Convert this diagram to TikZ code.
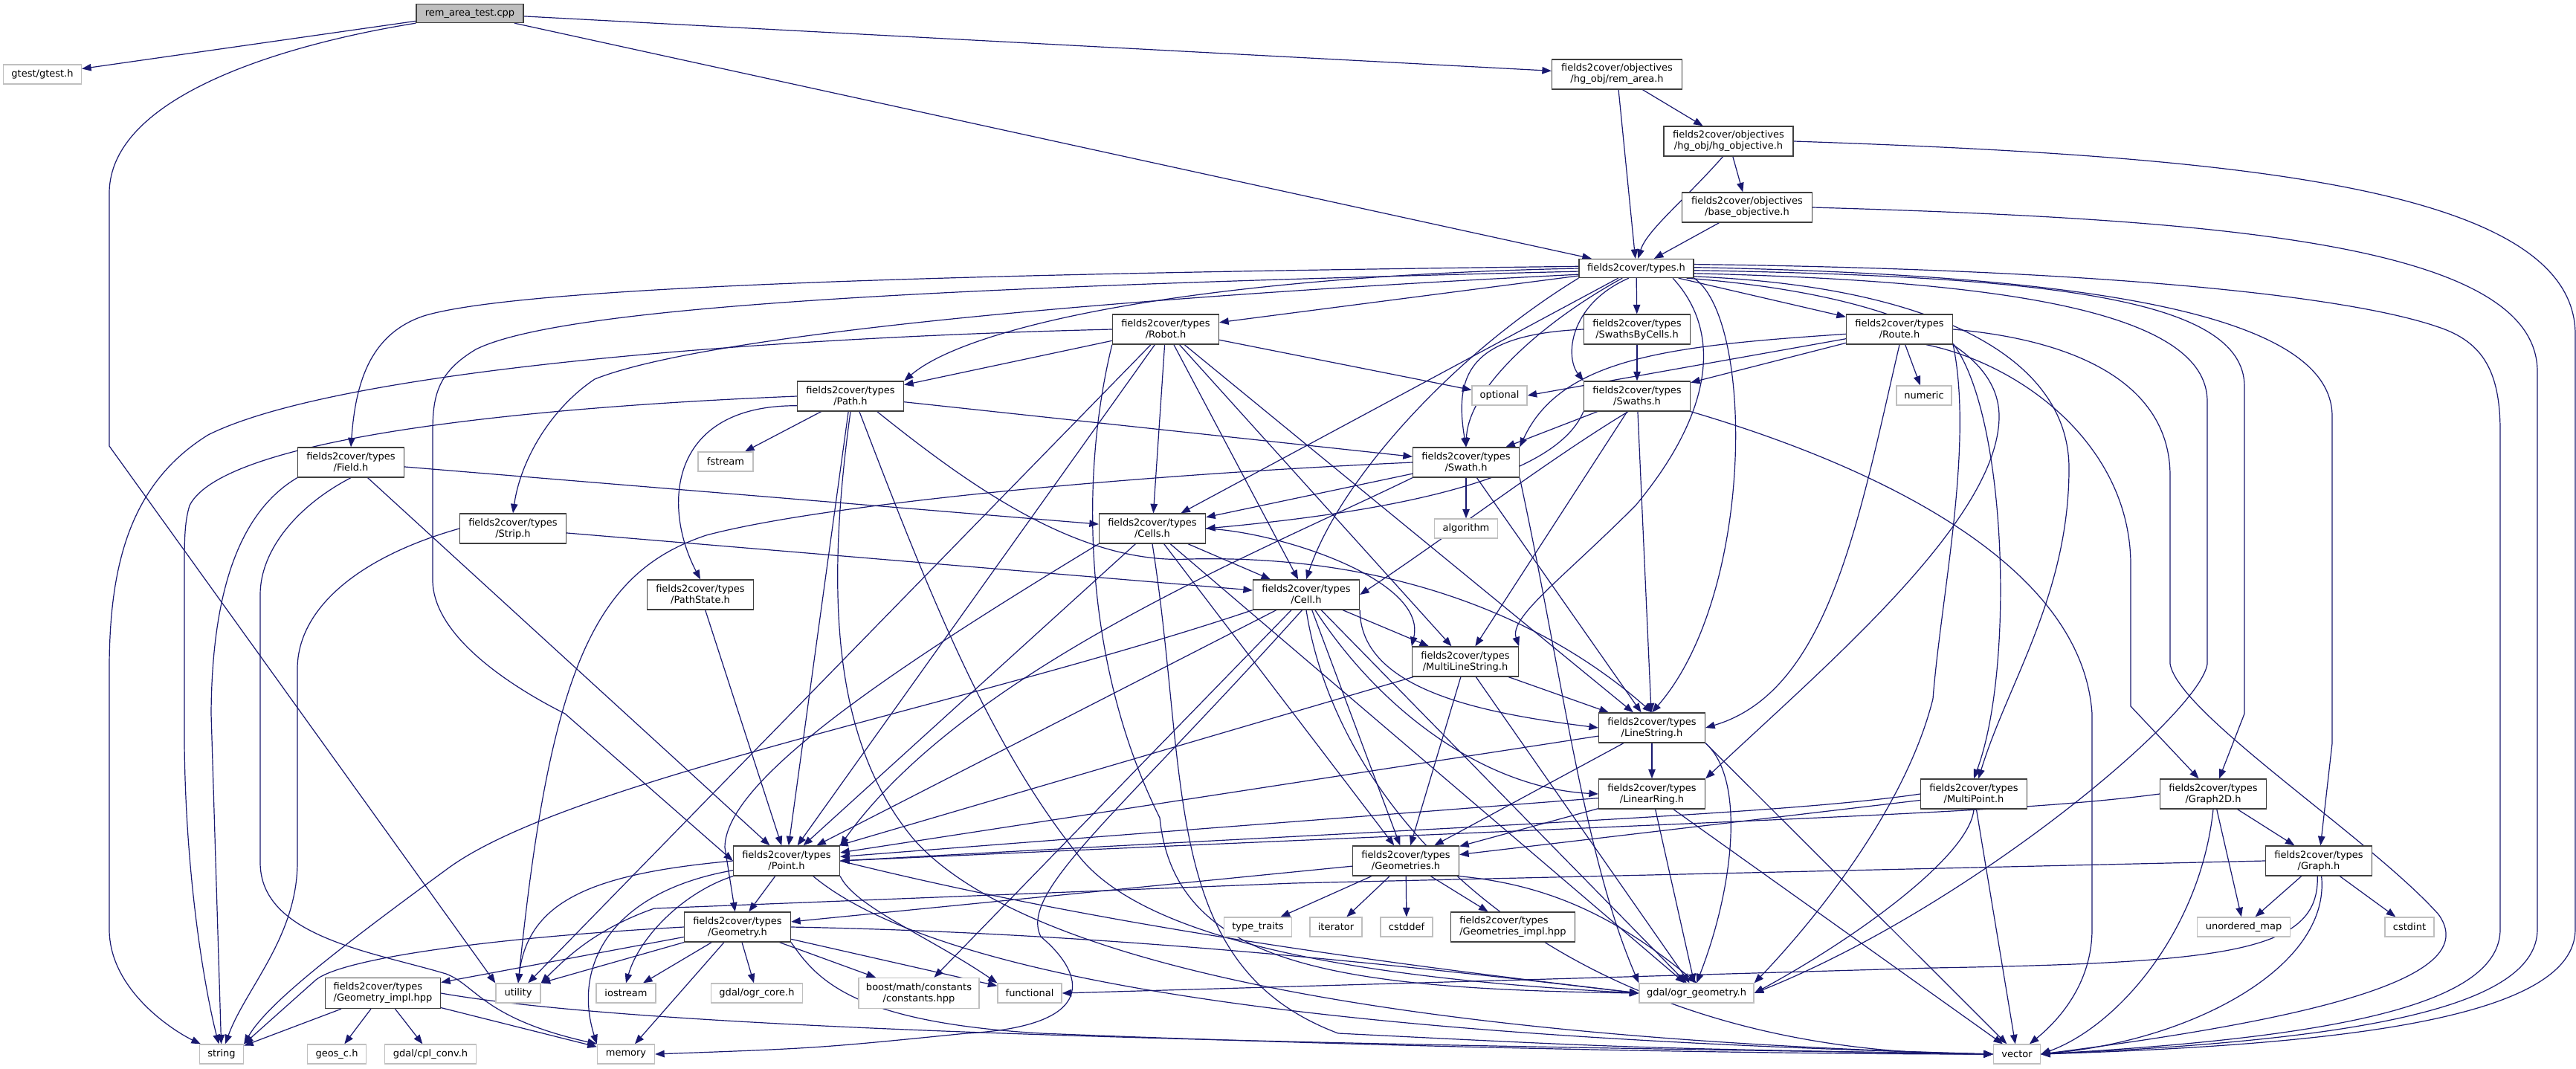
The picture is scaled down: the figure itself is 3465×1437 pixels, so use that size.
\documentclass[tikz,border=0pt]{standalone}
\usepackage{fontspec}
\setmainfont{DejaVu Sans}
\usetikzlibrary{arrows.meta}
\definecolor{edgec}{HTML}{191970}
\definecolor{docb}{HTML}{3F3F3F}
\definecolor{extb}{HTML}{BFBFBF}
\definecolor{rootf}{HTML}{BFBFBF}
\pgfdeclarelayer{bg}
\pgfsetlayers{bg,main}
\newcommand{\nf}{\fontsize{13pt}{15pt}\selectfont}
\tikzset{
  nd/.style={font=\nf, inner sep=0pt, line width=1.3pt, fill=white, align=center},
  doc/.style={nd, draw=docb},
  ext/.style={nd, draw=extb},
  two/.style={minimum width=143pt, minimum height=40pt},
  one/.style={minimum height=26pt},
  e/.style={draw=edgec, line width=1.2pt, -{Triangle[length=12.5pt,width=9.5pt]}},
}
\begin{document}
\begin{tikzpicture}[x=1pt,y=-1pt]
\useasboundingbox (0,0) rectangle (3465,1437);
% ---------------- nodes ----------------
\node[doc,fill=rootf,minimum width=144pt,minimum height=25pt] (root) at (632,18) {rem\_area\_test.cpp};
\node[ext,one,minimum width=105pt] (gtest) at (57,100) {gtest/gtest.h};
\node[doc,minimum width=175pt,minimum height=40pt] (remarea) at (2175,100) {fields2cover/objectives\\/hg\_obj/rem\_area.h};
\node[doc,minimum width=174pt,minimum height=40pt] (hgobj) at (2325,190) {fields2cover/objectives\\/hg\_obj/hg\_objective.h};
\node[doc,minimum width=175pt,minimum height=40pt] (baseobj) at (2350,279) {fields2cover/objectives\\/base\_objective.h};
\node[doc,minimum width=154pt,minimum height=25pt] (types) at (2201,361) {fields2cover/types.h};
\node[doc,two] (robot) at (1568,443) {fields2cover/types\\/Robot.h};
\node[doc,two] (sbc) at (2202,443) {fields2cover/types\\/SwathsByCells.h};
\node[doc,two] (route) at (2555,443) {fields2cover/types\\/Route.h};
\node[doc,two] (path) at (1144,533) {fields2cover/types\\/Path.h};
\node[ext,one,minimum width=74pt] (optional) at (2017,532) {optional};
\node[doc,two] (swaths) at (2202,533) {fields2cover/types\\/Swaths.h};
\node[ext,one,minimum width=74pt] (numeric) at (2588,532) {numeric};
\node[doc,two] (field) at (472,622) {fields2cover/types\\/Field.h};
\node[ext,one,minimum width=74pt] (fstream) at (976,621) {fstream};
\node[doc,two] (swath) at (1972,622) {fields2cover/types\\/Swath.h};
\node[doc,two] (strip) at (690,711) {fields2cover/types\\/Strip.h};
\node[doc,two] (cells) at (1550,711) {fields2cover/types\\/Cells.h};
\node[ext,one,minimum width=85pt] (algorithm) at (1972,711) {algorithm};
\node[doc,two] (pathstate) at (942,800) {fields2cover/types\\/PathState.h};
\node[doc,two] (cell) at (1757,800) {fields2cover/types\\/Cell.h};
\node[doc,two] (mls) at (1971,890) {fields2cover/types\\/MultiLineString.h};
\node[doc,two] (linestring) at (2222,979) {fields2cover/types\\/LineString.h};
\node[doc,two] (linearring) at (2222,1068) {fields2cover/types\\/LinearRing.h};
\node[doc,two] (multipoint) at (2655,1068) {fields2cover/types\\/MultiPoint.h};
\node[doc,two] (graph2d) at (2977,1068) {fields2cover/types\\/Graph2D.h};
\node[doc,two] (point) at (1058,1158) {fields2cover/types\\/Point.h};
\node[doc,two] (geometries) at (1891,1158) {fields2cover/types\\/Geometries.h};
\node[doc,two] (graph) at (3119,1158) {fields2cover/types\\/Graph.h};
\node[doc,two] (geometry) at (992,1247) {fields2cover/types\\/Geometry.h};
\node[ext,one,minimum width=91pt] (typetraits) at (1692,1247) {type\_traits};
\node[ext,one,minimum width=70pt] (iterator) at (1797,1247) {iterator};
\node[ext,one,minimum width=70pt] (cstddef) at (1892,1247) {cstddef};
\node[doc,minimum width=167pt,minimum height=40pt,align=left] (geomsimpl) at (2035,1247) {fields2cover/types\\/Geometries\_impl.hpp};
\node[ext,one,minimum width=125pt] (unorderedmap) at (3018,1247) {unordered\_map};
\node[ext,one,minimum width=66pt] (cstdint) at (3241,1247) {cstdint};
\node[doc,minimum width=155pt,minimum height=41pt,align=left] (geomimpl) at (515,1336) {fields2cover/types\\/Geometry\_impl.hpp};
\node[ext,one,minimum width=60pt] (utility) at (697,1336) {utility};
\node[ext,one,minimum width=80pt] (iostream) at (842,1336) {iostream};
\node[ext,one,minimum width=123pt] (ogrcore) at (1018,1336) {gdal/ogr\_core.h};
\node[ext,minimum width=162pt,minimum height=41pt] (boost) at (1236,1336) {boost/math/constants\\/constants.hpp};
\node[ext,one,minimum width=86pt] (functional) at (1385,1336) {functional};
\node[ext,one,minimum width=154pt] (ogrgeom) at (2282,1336) {gdal/ogr\_geometry.h};
\node[ext,one,minimum width=59pt] (string) at (298,1418) {string};
\node[ext,one,minimum width=79pt] (geos) at (453,1418) {geos\_c.h};
\node[ext,one,minimum width=123pt] (cplconv) at (579,1418) {gdal/cpl\_conv.h};
\node[ext,one,minimum width=77pt] (memory) at (842,1418) {memory};
\node[ext,one,minimum width=63pt] (vector) at (2713,1418) {vector};
% ---------------- edges ----------------
\begin{pgfonlayer}{bg}
\fill[white] (0,0) rectangle (3465,1437);
\foreach \a/\b in {root/gtest, root/remarea, root/types, remarea/hgobj, remarea/types, hgobj/baseobj, baseobj/types,
  types/robot, types/sbc, types/route, types/cells,
  robot/path, robot/cells, robot/cell, robot/mls, robot/linestring, robot/point, robot/utility, robot/optional,
  sbc/swaths, route/swaths, route/numeric,
  path/fstream, path/point, path/swath, field/cells, field/point, strip/cell,
  swaths/swath, swaths/mls, swaths/linestring,
  swath/algorithm, swath/cells, swath/linestring,
  pathstate/point, cells/cell, cells/point, cells/geometries, cells/ogrgeom,
  cell/point, cell/boost, cell/mls, cell/geometries, cell/ogrgeom,
  mls/geometries, mls/ogrgeom, mls/linestring, mls/point,
  linestring/point, linestring/geometries, linestring/linearring,
  linearring/point, linearring/geometries, linearring/ogrgeom, linearring/vector,
  multipoint/geometries, multipoint/vector,
  graph2d/graph, graph2d/unorderedmap, graph/unorderedmap, graph/cstdint,
  geometries/geometry, geometries/typetraits, geometries/iterator, geometries/cstddef, geometries/geomsimpl,
  point/geometry, geometry/geomimpl, geometry/iostream, geometry/ogrcore, geometry/boost, geometry/functional, geometry/memory,
  geomimpl/string, geomimpl/geos, geomimpl/cplconv, geomimpl/memory}
  \draw[e] (\a) -- (\b);
% root
\draw[e] (root.south west) .. controls (380,60) and (147,130) .. (147,260) -- (147,600) -- (utility.north west);
% objectives
\draw[e] (hgobj.250) .. controls (2265,270) and (2215,310) .. (types.80);
\draw[e] (hgobj.east) .. controls (3000,210) and (3464,250) .. (3464,450) -- (3464,1250) .. controls (3464,1370) and (3150,1405) .. (vector.east);
\draw[e] (baseobj.east) .. controls (3000,295) and (3413,330) .. (3413,500) -- (3413,1250) .. controls (3413,1360) and (3150,1400) .. (vector.east);
% types, right side
\draw[e] (types.4) .. controls (2800,362) and (3150,395) .. (3280,440) .. controls (3340,460) and (3363,500) .. (3363,580) -- (3363,1250) .. controls (3363,1350) and (3150,1395) .. (vector.east);
\draw[e] (types.1) .. controls (2800,370) and (3137,420) .. (3137,560) -- (3137,1000) -- (graph);
\draw[e] (types.358) .. controls (2750,372) and (3019,400) .. (3019,520) -- (3019,960) -- (graph2d);
\draw[e] (types.355) .. controls (2700,378) and (2969,420) .. (2969,540) -- (2969,893) .. controls (2960,960) and (2650,1220) .. (ogrgeom.east);
\draw[e] (types.352) .. controls (2600,385) and (2783,480) .. (2783,630) .. controls (2783,800) and (2700,920) .. (multipoint);
\draw[e] (types.349) .. controls (2500,392) and (2689,450) .. (2689,560) .. controls (2689,700) and (2450,900) .. (linearring.north east);
\draw[e] (types.345) .. controls (2320,450) and (2300,560) .. (2200,680) .. controls (2100,780) and (2030,830) .. (mls.north east);
\draw[e] (types.south east) .. controls (2360,430) and (2360,800) .. (linestring.north);
% types, left side
\draw[e] (types.178) .. controls (1300,368) and (700,385) .. (570,425) .. controls (495,450) and (478,520) .. (field.north);
\draw[e] (types.183) .. controls (1300,385) and (760,410) .. (640,470) .. controls (590,500) and (582,530) .. (582,580) -- (582,780) .. controls (582,860) and (700,930) .. (760,960) -- (point.west);
\draw[e] (types.186) .. controls (1500,400) and (950,450) .. (800,510) .. controls (740,550) and (700,620) .. (strip.north);
\draw[e] (types.180) .. controls (1600,372) and (1300,440) .. (path.north east);
\draw[e] (types.south west) .. controls (1950,480) and (1800,650) .. (cell.north);
\draw[e] (types.215) .. controls (2080,430) and (1975,520) .. (swath.north);
\draw[e] (types.232) .. controls (2110,410) and (2105,480) .. (swaths.north west);
% robot
\draw[e] (robot.west) .. controls (1000,455) and (450,500) .. (280,585) .. controls (175,650) and (147,760) .. (147,900) -- (147,1250) .. controls (147,1330) and (230,1385) .. (string);
\draw[e] (robot.south west) .. controls (1450,650) and (1460,900) .. (1560,1100) .. controls (1580,1300) and (1800,1330) .. (ogrgeom.west);
% route
\draw[e] (route.east) .. controls (2800,458) and (2919,520) .. (2919,640) -- (2919,893) .. controls (2930,960) and (3188,1127) .. (3280,1230) .. controls (3330,1300) and (3200,1360) .. (vector.east);
\draw[e] (route.185) .. controls (2250,465) and (2100,480) .. (swath.north east);
\draw[e] (route.190) -- (optional.east);
\draw[e] (route.south) .. controls (2500,700) and (2460,930) .. (linestring.east);
\draw[e] (route.south east) .. controls (2655,600) and (2611,800) .. (2600,940) .. controls (2560,1100) and (2420,1260) .. (ogrgeom.north east);
\draw[e] (route.345) .. controls (2700,560) and (2710,900) .. (multipoint.north);
\draw[e] (route.330) .. controls (2720,490) and (2866,600) .. (2866,760) -- (2866,950) -- (graph2d);
% sbc
\draw[e] (sbc.west) .. controls (1980,450) and (1955,500) .. (swath.north);
% path
\draw[e] (path.west) .. controls (700,548) and (300,590) .. (255,680) .. controls (249,700) and (248,720) .. (248,760) -- (248,1000) .. controls (250,1200) and (280,1350) .. (string);
\draw[e] (path.190) .. controls (900,545) and (890,680) .. (pathstate.north);
\draw[e] (path.330) .. controls (1300,650) and (1450,760) .. (1600,752) .. controls (1900,745) and (2100,850) .. (linestring.north);
\draw[e] (path.300) .. controls (1250,800) and (1330,1000) .. (1450,1150) .. controls (1550,1280) and (1900,1320) .. (ogrgeom.west);
\draw[e] (path.south) .. controls (1110,800) and (1120,1000) .. (1230,1130) .. controls (1400,1320) and (2000,1400) .. (vector.west);
% field, strip
\draw[e] (field.south west) .. controls (320,690) and (285,800) .. (284,960) -- (string);
\draw[e] (field.south) .. controls (400,680) and (350,740) .. (350,800) -- (350,1160) .. controls (350,1260) and (500,1280) .. (600,1310) .. controls (640,1325) and (650,1370) .. (memory.north west);
\draw[e] (strip.west) .. controls (480,750) and (400,820) .. (400,900) -- (400,1160) .. controls (400,1260) and (330,1330) .. (string);
% swaths, swath
\draw[e] (swaths.south west) .. controls (2090,650) and (1850,690) .. (cells.east);
\draw[e] (swaths.240) .. controls (2080,620) and (1950,720) .. (cell.east);
\draw[e] (swaths.south east) .. controls (2500,620) and (2800,750) .. (2814,960) -- (2814,1250) .. controls (2814,1330) and (2760,1380) .. (vector);
\draw[e] (swath.west) .. controls (1500,640) and (1100,680) .. (950,720) .. controls (800,770) and (740,900) .. (utility.north);
\draw[e] (swath.south west) .. controls (1700,740) and (1300,900) .. (point.north east);
\draw[e] (swath.south east) .. controls (2100,900) and (2130,1150) .. (ogrgeom.north west);
% cells, cell
\draw[e] (cells.south west) .. controls (1200,900) and (975,1050) .. (975,1140) -- (geometry);
\draw[e] (cells.east) .. controls (1720,715) and (1920,780) .. (mls.north west);
\draw[e] (cells.south) .. controls (1600,1050) and (1560,1300) .. (1800,1390) .. controls (2200,1410) .. (vector.west);
\draw[e] (cell.south west) .. controls (1300,950) and (760,1050) .. (600,1170) .. controls (450,1280) and (360,1350) .. (string.north east);
\draw[e] (cell.255) .. controls (1500,1100) and (1370,1200) .. (1400,1260) .. controls (1460,1310) and (1480,1380) .. (1300,1390) .. controls (1100,1410) .. (memory.east);
\draw[e] (cell.south east) .. controls (1830,930) and (2000,960) .. (linestring.west);
\draw[e] (cell.300) .. controls (1860,960) and (2000,1060) .. (linearring.west);
\draw[e] (cell.south) .. controls (1800,1100) and (2100,1420) .. (vector.west);
% linestring, multipoint, graphs
\draw[e] (linestring.south east) .. controls (2350,1050) and (2330,1200) .. (ogrgeom.north);
\draw[e] (linestring.south east) -- (vector);
\draw[e] (multipoint.west) .. controls (2400,1095) and (2000,1110) .. (point.east);
\draw[e] (multipoint.south) .. controls (2650,1150) and (2500,1260) .. (ogrgeom.east);
\draw[e] (graph2d.west) .. controls (2700,1095) and (2400,1100) .. (point.east);
\draw[e] (graph2d.south) .. controls (2960,1250) and (2850,1380) .. (vector.east);
\draw[e] (graph.265) .. controls (3120,1280) and (3000,1295) .. (2600,1302) -- (functional.east);
\draw[e] (graph.west) -- (1740,1188) -- (880,1222) .. controls (800,1250) and (760,1290) .. (utility.north east);
\draw[e] (graph.280) .. controls (3135,1300) and (2950,1400) .. (vector.east);
% geometries
\draw[e] (geometries.south east) .. controls (2080,1190) and (2170,1230) .. (ogrgeom.north);
% point
\draw[e] (point.west) .. controls (800,1175) and (710,1210) .. (utility.north);
\draw[e] (point.south west) .. controls (920,1200) and (860,1260) .. (iostream.north);
\draw[e] (point.190) .. controls (820,1200) and (770,1300) .. (memory.north west);
\draw[e] (point.south east) .. controls (1150,1220) and (1250,1260) .. (functional.north west);
\draw[e] (point.east) .. controls (1500,1250) and (1900,1300) .. (ogrgeom.west);
\draw[e] (point.330) .. controls (1300,1350) and (2000,1400) .. (vector.west);
% geometry
\draw[e] (geometry.west) .. controls (650,1262) and (460,1290) .. (425,1318) -- (string.north east);
\draw[e] (geometry.south west) -- (utility.north east);
\draw[e] (geometry.east) .. controls (1500,1255) and (1900,1300) .. (ogrgeom.west);
\draw[e] (geometry.south east) .. controls (1100,1320) and (1150,1375) .. (1400,1390) .. controls (1900,1410) and (2400,1418) .. (vector.west);
\draw[e] (geomimpl.east) .. controls (900,1390) and (1800,1405) .. (vector.west);
\end{pgfonlayer}
\end{tikzpicture}
\end{document}
